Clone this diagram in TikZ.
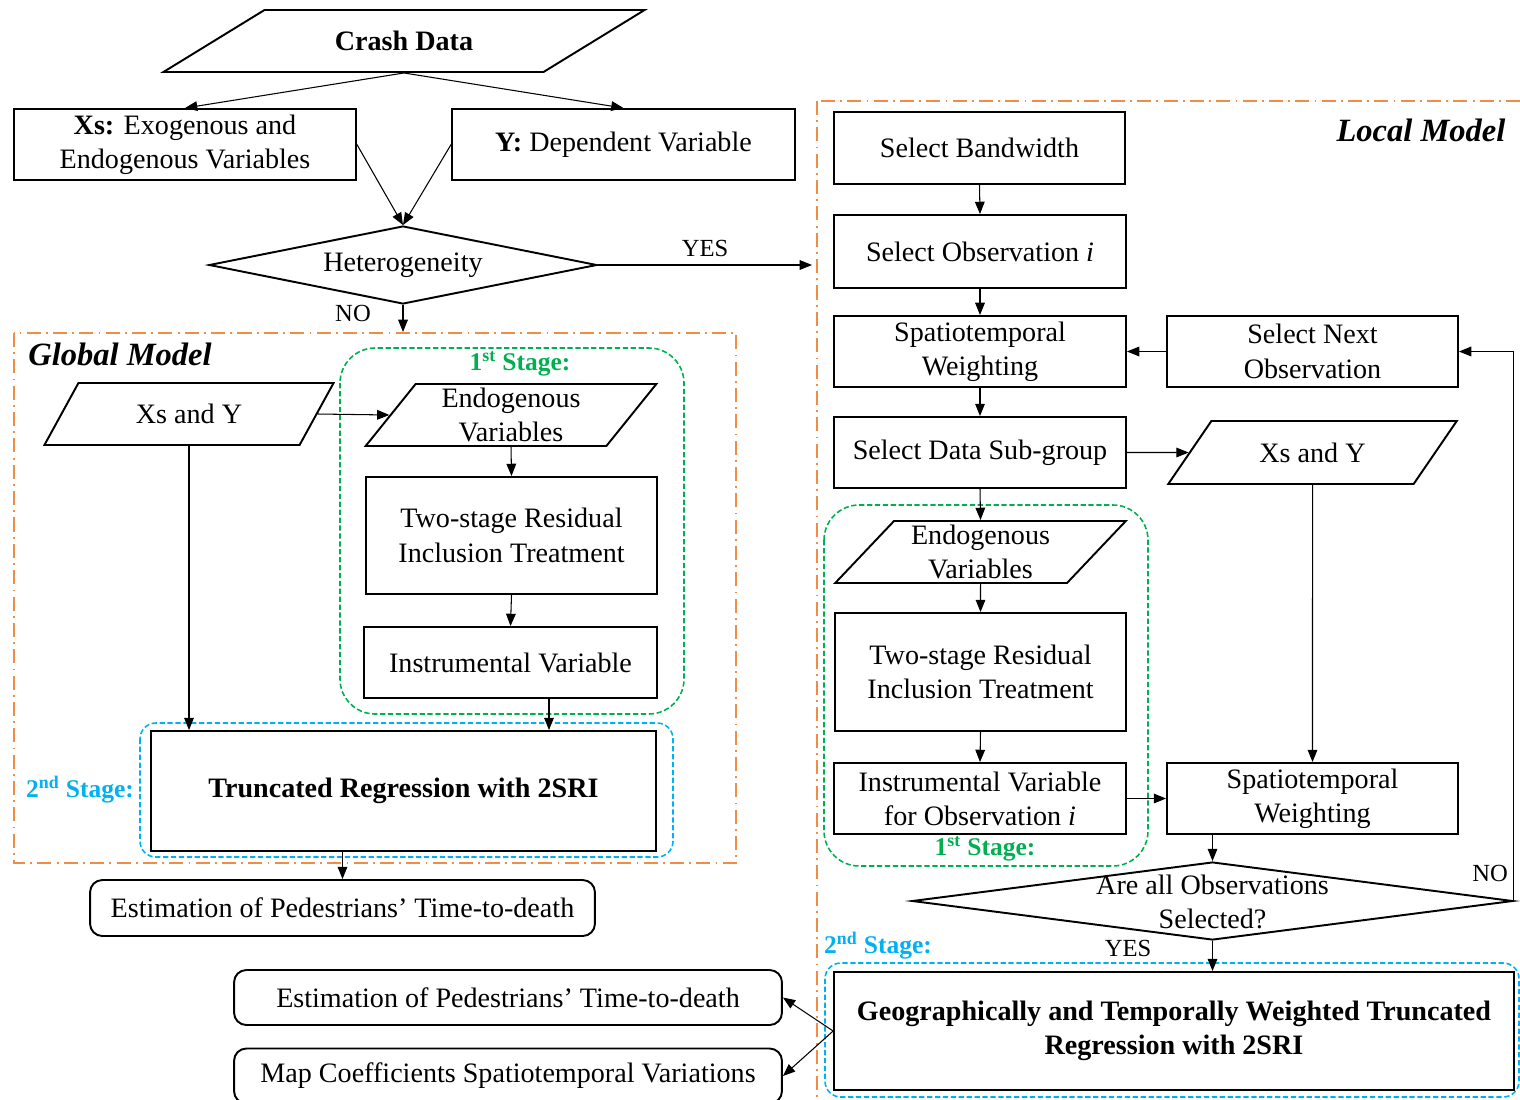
\documentclass[tikz,border=0pt]{standalone}
\usepackage{fontspec}
\setmainfont{Liberation Serif}
\usepackage{tikz}
\usetikzlibrary{arrows.meta, positioning, shapes.geometric}
\definecolor{modelorange}{HTML}{F08C46}
\definecolor{stagegreen}{HTML}{00B050}
\definecolor{stageblue}{HTML}{00B0F0}

\tikzset{
  box/.style={draw, line width=1.1pt, align=center, inner sep=2pt,
    font=\fontsize{16}{19.5}\selectfont},
  endbox/.style={box, rounded corners=7pt},
  databox/.style={box, trapezium, trapezium stretches=true},
  decision/.style={box, diamond, inner sep=0pt},
  flow/.style={-{Triangle[length=7pt, width=5.5pt]}, line width=0.6pt},
  modelframe/.style={draw=modelorange, line width=1pt,
    dash pattern=on 8pt off 3pt on 1pt off 3pt},
  greenframe/.style={draw=stagegreen, line width=0.9pt,
    dash pattern=on 3pt off 1.5pt, rounded corners=20pt},
  blueframe/.style={draw=stageblue, line width=0.9pt,
    dash pattern=on 3pt off 1.5pt, rounded corners=9pt},
  stagelabel/.style={font=\fontsize{14.5}{17}\selectfont\bfseries},
  modellabel/.style={font=\fontsize{18.5}{22}\selectfont\bfseries\itshape},
  answer/.style={font=\fontsize{14}{16}\selectfont}
}

\begin{document}
\begin{tikzpicture}[x=0.02cm, y=-0.02cm]
  \useasboundingbox (0,0) rectangle (1520,1099);

  % Frames
  \draw[modelframe] (14,333) rectangle (736,863);
  \draw[modelframe] (817,101) rectangle (1530,1110);
  \draw[greenframe] (340,348) rectangle (684,714);
  \draw[blueframe] (140,723) rectangle (673,857);
  \draw[greenframe] (824,505) rectangle (1148,866);
  \draw[blueframe] (825,963) rectangle (1519,1097);

  \node[modellabel] at (120,354) {Global Model};
  \node[modellabel] at (1421,130) {Local Model};
  \node[stagelabel, stagegreen] at (520,364) {1\textsuperscript{st} Stage:};
  \node[stagelabel, stagegreen] at (985,849) {1\textsuperscript{st} Stage:};
  \node[stagelabel, stageblue] at (80,790) {2\textsuperscript{nd} Stage:};
  \node[stagelabel, stageblue] at (878,946) {2\textsuperscript{nd} Stage:};

  % Data and split
  \node[databox, trapezium left angle=27, trapezium right angle=153,
    minimum width=9.64cm, minimum height=1.24cm] (crash) at (404,41)
    {\textbf{Crash Data}};
  \node[box, minimum width=6.84cm, minimum height=1.42cm] (xs) at (185,144.5)
    {\textbf{Xs:} Exogenous and\\Endogenous Variables};
  \node[box, minimum width=6.86cm, minimum height=1.42cm] (ydep) at (623.5,144.5)
    {\textbf{Y:} Dependent Variable};
  \node[decision, minimum width=7.76cm, minimum height=1.56cm] (hetero) at (403,265)
    {\makebox[0pt]{Heterogeneity}};
  \coordinate (localin) at (812,265);
  \coordinate (globalin) at (403,332);

  \draw[flow] (crash.south) -- (xs.north);
  \draw[flow] (crash.south) -- (ydep.north);
  \draw[flow] (xs.east) -- (hetero.north);
  \draw[flow] (ydep.west) -- (hetero.north);
  \draw[flow] (hetero.east) -- (localin);
  \draw[flow] (hetero.south) -- (globalin);
  \node[answer] at (705,248) {YES};
  \node[answer] at (353,313) {NO};

  % Global model
  \node[databox, trapezium left angle=57, trapezium right angle=123,
    minimum width=5.82cm, minimum height=1.24cm] (xsg) at (189,414)
    {Xs and Y};
  \node[databox, trapezium left angle=58, trapezium right angle=122,
    minimum width=5.82cm, minimum height=1.24cm] (endog) at (511,415)
    {Endogenous\\Variables};
  \node[box, minimum width=5.82cm, minimum height=2.34cm] (twog) at (511.5,535.5)
    {Two-stage Residual\\Inclusion Treatment};
  \node[box, minimum width=5.86cm, minimum height=1.42cm] (instrg) at (510.5,662.5)
    {Instrumental Variable};
  \node[box, minimum width=10.1cm, minimum height=2.4cm] (trunc) at (403.5,791)
    {\textbf{Truncated Regression with 2SRI}};
  \node[endbox, minimum width=10.1cm, minimum height=1.12cm] (estg) at (342.5,908)
    {Estimation of Pedestrians’ Time-to-death};
  \coordinate (ivout) at ([xshift=0.77cm]instrg.south);

  \draw[flow] (xsg.east) -- (endog.west);
  \draw[flow] (endog.south) -- (twog.north);
  \draw[flow] (twog.south) -- (instrg.north);
  \draw[flow] (xsg.south) -- (xsg.south |- trunc.north);
  \draw[flow] (ivout) -- (ivout |- trunc.north);
  \draw[flow] (estg.north |- trunc.south) -- (estg.north);

  % Local model
  \node[box, minimum width=5.82cm, minimum height=1.44cm] (band) at (979.5,148)
    {Select Bandwidth};
  \node[box, minimum width=5.84cm, minimum height=1.46cm] (selobs) at (980,251.5)
    {Select Observation \textit{i}};
  \node[box, minimum width=5.84cm, minimum height=1.42cm] (spat) at (980,351.5)
    {Spatiotemporal\\Weighting};
  \node[box, minimum width=5.82cm, minimum height=1.42cm] (selnext) at (1312.5,351.5)
    {Select Next\\Observation};
  \node[box, minimum width=5.84cm, minimum height=1.42cm] (seldata) at (980,452.5)
    {Select Data Sub-group};
  \node[databox, trapezium left angle=48, trapezium right angle=132,
    minimum width=5.82cm, minimum height=1.26cm] (xsl) at (1312.5,452.5)
    {Xs and Y};
  \node[databox, trapezium left angle=51, trapezium right angle=129,
    minimum width=5.82cm, minimum height=1.24cm] (endol) at (980.5,552)
    {Endogenous\\Variables};
  \node[box, minimum width=5.82cm, minimum height=2.36cm] (twol) at (980.5,672)
    {Two-stage Residual\\Inclusion Treatment};
  \node[box, minimum width=5.84cm, minimum height=1.42cm] (instrl) at (980,798.5)
    {Instrumental Variable\\for Observation \textit{i}};
  \node[box, minimum width=5.82cm, minimum height=1.42cm] (spatl) at (1312.5,798.5)
    {Spatiotemporal\\Weighting};
  \node[decision, minimum width=12.02cm, minimum height=1.56cm] (allsel) at (1212.5,901)
    {\makebox[0pt]{\raisebox{-0.22cm}[0pt][0pt]{\begin{tabular}{@{}c@{}}Are all Observations\\Selected?\end{tabular}}}};
  \node[box, minimum width=13.6cm, minimum height=2.36cm] (gtwtr) at (1174,1031)
    {\textbf{Geographically and Temporally Weighted Truncated}\\
     \textbf{Regression with 2SRI}};
  \node[endbox, minimum width=10.96cm, minimum height=1.1cm] (estl) at (508,997.5)
    {Estimation of Pedestrians’ Time-to-death};
  \node[endbox, minimum width=10.96cm, minimum height=1.1cm] (mapl) at (508,1076)
    {Map Coefficients Spatiotemporal Variations};

  \draw[flow] (band.south) -- (selobs.north);
  \draw[flow] (selobs.south) -- (spat.north);
  \draw[flow] (spat.south) -- (seldata.north);
  \draw[flow] (selnext.west) -- (spat.east);
  \draw[flow] (seldata.east) -- (xsl.west);
  \draw[flow] (seldata.south) -- (endol.north);
  \draw[flow] (endol.south) -- (twol.north);
  \draw[flow] (twol.south) -- (instrl.north);
  \draw[flow] (instrl.east) -- (spatl.west);
  \draw[flow] (xsl.south) -- (spatl.north);
  \draw[flow] (allsel.north |- spatl.south) -- (allsel.north);
  \draw[flow] (allsel.south) -- (allsel.south |- gtwtr.north);
  \draw[flow] (allsel.east) |- (selnext.east);
  \draw[flow] (gtwtr.west) -- (estl.east);
  \draw[flow] (gtwtr.west) -- (mapl.east);
  \node[answer] at (1490,873) {NO};
  \node[answer] at (1128,948) {YES};
\end{tikzpicture}
\end{document}
